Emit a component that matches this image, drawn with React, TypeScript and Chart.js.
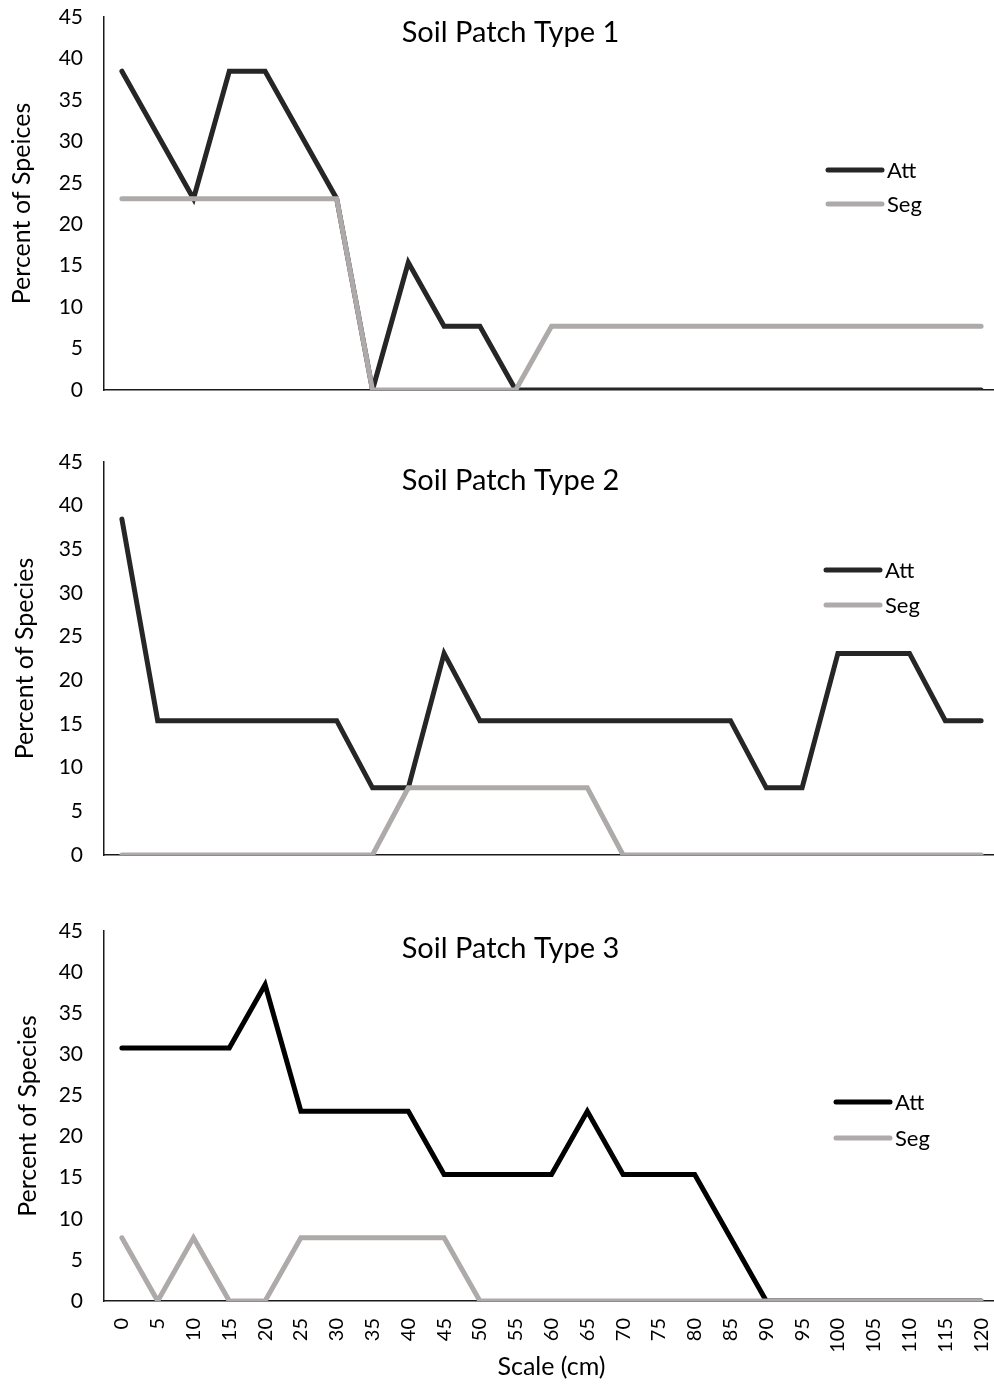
import { useEffect, useRef } from "react";
import { Chart, registerables } from "chart.js";

Chart.register(...registerables);

const scaleLabels = ["0","5","10","15","20","25","30","35","40","45","50","55","60","65","70","75","80","85","90","95","100","105","110","115","120"];
const seriesNames = ["Att", "Seg"];

const p1Att = [38.46, 30.77, 23.08, 38.46, 38.46, 30.77, 23.08, 0, 15.38, 7.69, 7.69, 0, 0, 0, 0, 0, 0, 0, 0, 0, 0, 0, 0, 0, 0];
const p1Seg = [23.08, 23.08, 23.08, 23.08, 23.08, 23.08, 23.08, 0, 0, 0, 0, 0, 7.69, 7.69, 7.69, 7.69, 7.69, 7.69, 7.69, 7.69, 7.69, 7.69, 7.69, 7.69, 7.69];
const p2Att = [38.46, 15.38, 15.38, 15.38, 15.38, 15.38, 15.38, 7.69, 7.69, 23.08, 15.38, 15.38, 15.38, 15.38, 15.38, 15.38, 15.38, 15.38, 7.69, 7.69, 23.08, 23.08, 23.08, 15.38, 15.38];
const p2Seg = [0, 0, 0, 0, 0, 0, 0, 0, 7.69, 7.69, 7.69, 7.69, 7.69, 7.69, 0, 0, 0, 0, 0, 0, 0, 0, 0, 0, 0];
const p3Att = [30.77, 30.77, 30.77, 30.77, 38.46, 23.08, 23.08, 23.08, 23.08, 15.38, 15.38, 15.38, 15.38, 23.08, 15.38, 15.38, 15.38, 7.69, 0, 0, 0, 0, 0, 0, 0];
const p3Seg = [7.69, 0, 7.69, 0, 0, 7.69, 7.69, 7.69, 7.69, 7.69, 0, 0, 0, 0, 0, 0, 0, 0, 0, 0, 0, 0, 0, 0, 0];

const panelTitles = ["Soil Patch Type 1", "Soil Patch Type 2", "Soil Patch Type 3"];
const yTitles = ["Percent of Speices", "Percent of Species", "Percent of Species"];
const xTitle = "Scale (cm)";

const FONT = "Lato, 'Open Sans', sans-serif";
const SEG_COLOR = "#aeaaaa";
const PAD = 40;

type Panel = {
  att: number[];
  seg: number[];
  title: string;
  yTitle: string;
  areaTop: number;
  areaBottom: number;
  xAxisH: number;
  bottomPad: number;
  showX: boolean;
  titleBase: number;
  legendX: number;
  legendY1: number;
  legendY2: number;
  attColor: string;
  yTitlePad: number;
};

const panels: Panel[] = [
  { att: p1Att, seg: p1Seg, title: panelTitles[0], yTitle: yTitles[0], areaTop: 17, areaBottom: 390, xAxisH: 10, bottomPad: 30, showX: false, titleBase: 42, legendX: 828, legendY1: 170, legendY2: 204, attColor: "#262626", yTitlePad: 7 },
  { att: p2Att, seg: p2Seg, title: panelTitles[1], yTitle: yTitles[1], areaTop: 462, areaBottom: 855, xAxisH: 10, bottomPad: 30, showX: false, titleBase: 490, legendX: 826, legendY1: 570, legendY2: 605, attColor: "#262626", yTitlePad: 10 },
  { att: p3Att, seg: p3Seg, title: panelTitles[2], yTitle: yTitles[2], areaTop: 931, areaBottom: 1301, xAxisH: 86, bottomPad: 0, showX: true, titleBase: 958, legendX: 836, legendY1: 1102, legendY2: 1138, attColor: "#000000", yTitlePad: 13 },
];

function PanelChart({ p }: { p: Panel }) {
  const ref = useRef<HTMLCanvasElement | null>(null);
  const top = p.areaTop - PAD;
  const height = p.areaBottom - top + p.xAxisH + p.bottomPad;
  useEffect(() => {
    if (!ref.current) return;
    const overlay = {
      id: "overlay",
      afterDraw(chart: any) {
        const ctx = chart.ctx;
        ctx.save();
        ctx.fillStyle = "#000";
        ctx.font = `29px ${FONT}`;
        ctx.textAlign = "center";
        ctx.textBaseline = "alphabetic";
        ctx.fillText(p.title, 510.5, p.titleBase - top);
        const ys = [p.legendY1, p.legendY2];
        chart.data.datasets.forEach((d: any, i: number) => {
          const y = ys[i] - top;
          ctx.strokeStyle = d.borderColor;
          ctx.lineWidth = 5;
          ctx.lineCap = "round";
          ctx.beginPath();
          ctx.moveTo(p.legendX, y);
          ctx.lineTo(p.legendX + 54, y);
          ctx.stroke();
          ctx.fillStyle = "#000";
          ctx.font = `22px ${FONT}`;
          ctx.textAlign = "left";
          ctx.textBaseline = "alphabetic";
          ctx.fillText(d.label, p.legendX + 59, y + 7.5);
        });
        ctx.restore();
      },
    };
    const chart = new Chart(ref.current, {
      type: "line",
      data: {
        labels: scaleLabels,
        datasets: [
          { label: seriesNames[0], data: p.att, borderColor: p.attColor, backgroundColor: p.attColor, borderWidth: 5, pointRadius: 0, tension: 0, order: 1, borderCapStyle: "round", borderJoinStyle: "miter" },
          { label: seriesNames[1], data: p.seg, borderColor: SEG_COLOR, backgroundColor: SEG_COLOR, borderWidth: 5, pointRadius: 0, tension: 0, order: 0, borderCapStyle: "round", borderJoinStyle: "miter" },
        ],
      },
      options: {
        animation: false,
        responsive: false,
        devicePixelRatio: 1,
        layout: { autoPadding: false, padding: { top: PAD, left: 0, right: 0, bottom: p.bottomPad } },
        plugins: { legend: { display: false }, tooltip: { enabled: false }, title: { display: false } },
        scales: {
          x: {
            type: "category",
            offset: true,
            grid: { display: false, drawTicks: false },
            border: { display: true, color: "#1a1a1a", width: 1.5 },
            ticks: { display: p.showX, autoSkip: false, maxRotation: 90, minRotation: 90, padding: 17, color: "#000", font: { family: FONT, size: 20 } },
            title: { display: p.showX, text: xTitle, color: "#000", font: { family: FONT, size: 25 }, padding: { top: 0, bottom: 5 } },
            afterFit: (s: any) => {
              s.height = p.xAxisH;
              s.paddingLeft = 0;
              s.paddingRight = 0;
            },
          },
          y: {
            min: 0,
            max: 45,
            grid: { display: false, drawTicks: false },
            border: { display: true, color: "#1a1a1a", width: 1.5 },
            ticks: { stepSize: 5, padding: 21, color: "#000", font: { family: FONT, size: 21 } },
            title: { display: true, text: p.yTitle, color: "#000", font: { family: FONT, size: 25 }, padding: { top: p.yTitlePad, bottom: 0 } },
            afterFit: (s: any) => {
              s.width = 104;
              s.paddingTop = 0;
              s.paddingBottom = 0;
            },
          },
        },
      },
      plugins: [overlay],
    } as any);
    return () => chart.destroy();
  }, [p]);
  return (
    <canvas
      ref={ref}
      width={999}
      height={height}
      style={{ position: "absolute", left: 0, top, width: 999, height }}
    />
  );
}

export default function App() {
  return (
    <div style={{ position: "fixed", left: 0, top: 0, width: 994, height: 1387, overflow: "hidden", background: "#fff" }}>
      {panels.map((p, i) => (
        <PanelChart key={i} p={p} />
      ))}
    </div>
  );
}
